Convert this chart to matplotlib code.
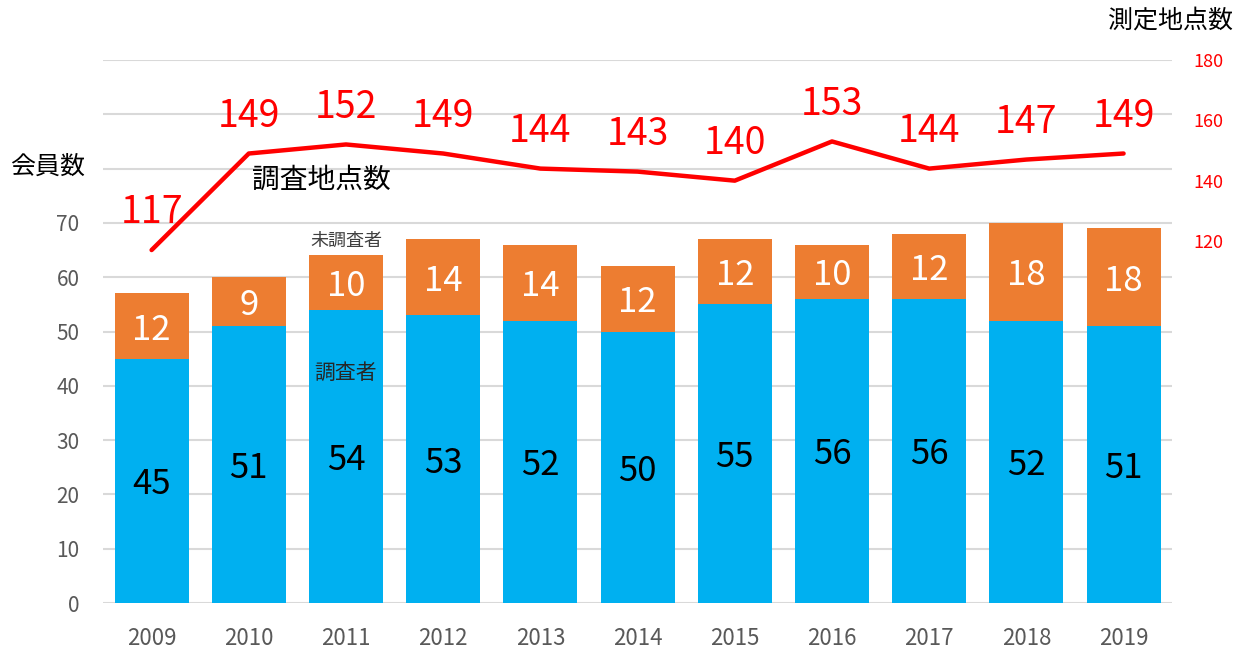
import matplotlib
matplotlib.use("Agg")
import matplotlib.pyplot as plt
import numpy as np

plt.rcParams["font.family"] = ["Noto Sans CJK JP", "DejaVu Sans"]

years = ["2009", "2010", "2011", "2012", "2013", "2014", "2015", "2016", "2017", "2018", "2019"]
surveyed = [45, 51, 54, 53, 52, 50, 55, 56, 56, 52, 51]
not_surveyed = [12, 9, 10, 14, 14, 12, 12, 10, 12, 18, 18]
points = [117, 149, 152, 149, 144, 143, 140, 153, 144, 147, 149]

BLUE = "#00B0F0"
ORANGE = "#ED7D31"
RED = "#FF0000"
GREY = "#595959"

fig = plt.figure(figsize=(12.47, 6.5), dpi=100)
ax = fig.add_axes([0.0826, 0.0723, 0.8574, 0.8354])
x = np.arange(len(years))

# stacked bars
ax.bar(x, surveyed, width=0.76, color=BLUE, zorder=2)
ax.bar(x, not_surveyed, width=0.76, bottom=surveyed, color=ORANGE, zorder=2)
for xi, s, n in zip(x, surveyed, not_surveyed):
    ax.text(xi, s / 2, str(s), ha="center", va="center_baseline", fontsize=25, color="black", zorder=3)
    ax.text(xi, s + n / 2, str(n), ha="center", va="center_baseline", fontsize=25, color="white", zorder=3)

ax.set_xlim(-0.5, len(years) - 0.5)
ax.set_ylim(0, 100)
ax.set_yticks(np.arange(0, 101, 10))
ax.set_yticklabels([str(v) if v <= 70 else "" for v in range(0, 101, 10)])
ax.set_xticks(x)
ax.set_xticklabels(years)
ax.yaxis.grid(True, color="#D9D9D9", linewidth=1.5, zorder=0)
ax.set_axisbelow(True)
for sp in ax.spines.values():
    sp.set_visible(False)
ax.tick_params(axis="y", length=0, pad=17, labelsize=15, labelcolor=GREY)
ax.tick_params(axis="x", length=0, pad=17, labelsize=16, labelcolor=GREY)

ax.text(2, 66.7, "未調査者", ha="center", va="center", fontsize=13, color="#404040")
ax.text(2, 42.4, "調査者", ha="center", va="center", fontsize=15, color="#262626", zorder=3)
ax.text(1.75, 77.9, "調査地点数", ha="center", va="center", fontsize=20, color="black")

# line on secondary axis
ax2 = ax.twinx()
ax2.plot(x, points, color=RED, linewidth=3.2, solid_capstyle="round")
for xi, p in zip(x, points):
    ax2.annotate(str(p), (xi, p), xytext=(0, 30), textcoords="offset points",
                 ha="center", va="center_baseline", fontsize=27, color=RED)
ax2.set_ylim(0, 180)
ax2.set_yticks([120, 140, 160, 180])
ax2.tick_params(axis="y", length=0, pad=15, labelsize=13, labelcolor=RED)
for sp in ax2.spines.values():
    sp.set_visible(False)

fig.text(0.0385, 0.743, "会員数", ha="center", va="center", fontsize=18, color="black")
fig.text(0.939, 0.969, "測定地点数", ha="center", va="center", fontsize=18, color="black")

fig.savefig("out.png", dpi=100)
